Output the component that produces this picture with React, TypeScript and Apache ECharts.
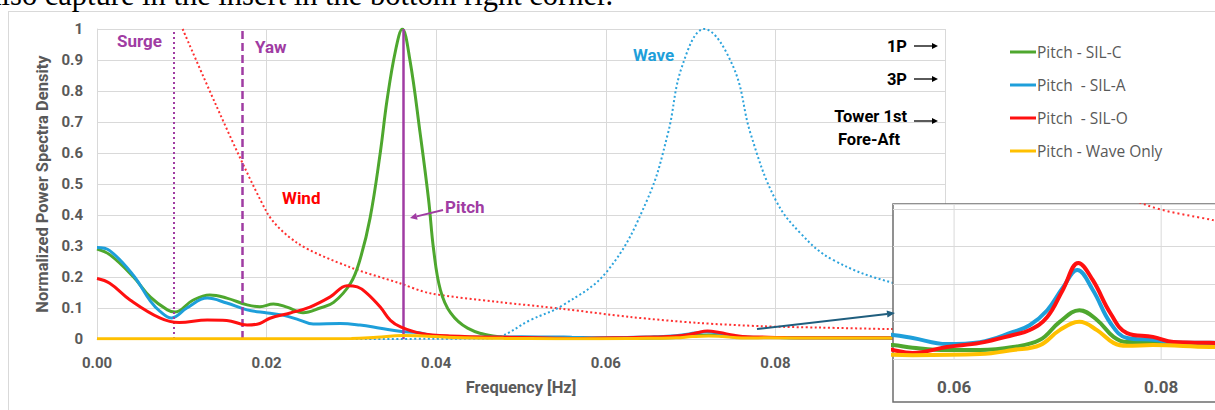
import React, { useEffect, useRef } from "react";
import * as echarts from "echarts";

// ---------- data ----------
const seriesNames = ["Pitch - SIL-C", "Pitch  - SIL-A", "Pitch  - SIL-O", "Pitch - Wave Only"];

const silC: [number, number][] = [
  [0, 0.29], [0.0015, 0.272], [0.0043, 0.2], [0.0063, 0.135], [0.0083, 0.094], [0.0092, 0.087],
  [0.0113, 0.125], [0.0133, 0.142], [0.0153, 0.132], [0.0177, 0.11], [0.0192, 0.104], [0.0208, 0.113],
  [0.0224, 0.103], [0.0243, 0.085], [0.0263, 0.1], [0.0279, 0.118], [0.0299, 0.18], [0.031, 0.255],
  [0.0322, 0.39], [0.0334, 0.6], [0.0342, 0.77], [0.0352, 0.93], [0.036, 1.0], [0.0369, 0.9],
  [0.0381, 0.665], [0.0391, 0.45], [0.0397, 0.287], [0.0405, 0.158], [0.0417, 0.084], [0.0437, 0.035],
  [0.0467, 0.01], [0.05, 0.004], [0.0541, 0.0037], [0.056, 0.003], [0.0593, 0.0024], [0.0625, 0.0024],
  [0.0657, 0.0032], [0.0683, 0.0051], [0.0702, 0.0099], [0.0721, 0.013], [0.0738, 0.0104],
  [0.0754, 0.0059], [0.0767, 0.0045], [0.0792, 0.0045], [0.0818, 0.0043], [0.0847, 0.0037], [0.1, 0.003],
];

const silA: [number, number][] = [
  [0, 0.295], [0.0015, 0.285], [0.0043, 0.205], [0.0063, 0.122], [0.0074, 0.09], [0.0088, 0.068],
  [0.0106, 0.1], [0.013, 0.132], [0.0153, 0.116], [0.0177, 0.094], [0.0201, 0.084], [0.0219, 0.077],
  [0.0239, 0.061], [0.0255, 0.048], [0.0287, 0.05], [0.031, 0.045], [0.0334, 0.035], [0.0357, 0.025],
  [0.038, 0.02], [0.0393, 0.012], [0.0428, 0.006], [0.05, 0.007], [0.0541, 0.0064], [0.056, 0.0056],
  [0.0593, 0.004], [0.0625, 0.0045], [0.0657, 0.0072], [0.0673, 0.009], [0.069, 0.013], [0.0705, 0.019],
  [0.0719, 0.0237], [0.0734, 0.0184], [0.0751, 0.0096], [0.0767, 0.0056], [0.0792, 0.0051],
  [0.0818, 0.0043], [0.0847, 0.0043], [0.1, 0.003],
];

const silO: [number, number][] = [
  [0, 0.195], [0.0015, 0.18], [0.0039, 0.126], [0.0074, 0.068], [0.0097, 0.053], [0.013, 0.061],
  [0.0153, 0.06], [0.0177, 0.045], [0.0192, 0.05], [0.0204, 0.067], [0.0228, 0.084], [0.0251, 0.103],
  [0.0275, 0.136], [0.0295, 0.172], [0.0307, 0.168], [0.0318, 0.148], [0.0334, 0.103], [0.0346, 0.06],
  [0.0358, 0.039], [0.0381, 0.019], [0.0416, 0.01], [0.05, 0.005], [0.0541, 0.0024], [0.056, 0.0016],
  [0.0593, 0.0032], [0.0625, 0.0043], [0.0657, 0.0064], [0.0673, 0.0077], [0.069, 0.0112],
  [0.0705, 0.0184], [0.072, 0.0256], [0.0734, 0.021], [0.0751, 0.0122], [0.0767, 0.0069],
  [0.0792, 0.0059], [0.0812, 0.0045], [0.0847, 0.0043], [0.1, 0.003],
];

const waveOnly: [number, number][] = [
  [0, 0.001], [0.02, 0.001], [0.03, 0.002], [0.033, 0.006], [0.036, 0.011], [0.039, 0.009],
  [0.042, 0.005], [0.048, 0.002], [0.0541, 0.0011], [0.056, 0.001], [0.0625, 0.0013], [0.0657, 0.0024],
  [0.0683, 0.0037], [0.0702, 0.0077], [0.0721, 0.0099], [0.0738, 0.0077], [0.0754, 0.0043],
  [0.0767, 0.0035], [0.0792, 0.0037], [0.0847, 0.0032], [0.1, 0.003],
];

const windSpectrum: [number, number][] = [
  [0.0101, 1.0], [0.02, 0.41], [0.0236, 0.31], [0.0298, 0.232], [0.0357, 0.18], [0.0392, 0.148],
  [0.0472, 0.12], [0.055, 0.097], [0.0629, 0.071], [0.0708, 0.052], [0.0786, 0.041], [0.085, 0.037],
  [0.0936, 0.032], [0.1, 0.03],
];

const waveSpectrum: [number, number][] = [
  [0.03, 0], [0.046, 0.002], [0.0473, 0.006], [0.0511, 0.061], [0.055, 0.11], [0.0602, 0.22],
  [0.0649, 0.45], [0.0673, 0.66], [0.069, 0.88], [0.0716, 1.0], [0.075, 0.88], [0.0771, 0.66],
  [0.08, 0.45], [0.083, 0.34], [0.0868, 0.255], [0.094, 0.18], [0.1, 0.155],
];

const surgeFreq = 0.009;
const yawFreq = 0.0171;
const pitchFreq = 0.0361;

const mainXMin = 0;
const mainXMax = 0.1;
const mainXStep = 0.02;
const mainYMax = 1;
const mainYStep = 0.1;

const insetXMin = 0.0541;
const insetXMax = 0.0852;
const insetYMax = 0.0413;
const insetYStep = 0.01;
const insetTicks = [0.06, 0.08];

// ---------- styles ----------
const GREEN = "#4EA72E";
const BLUE = "#1E9FDA";
const RED = "#FF1010";
const YELLOW = "#FFC000";
const PURPLE = "#A03CA3";
const GRID = "#D9D9D9";
const TXT = "#595959";
const FONT = "Roboto, 'Open Sans', sans-serif";
const LEGEND_FONT = "'Open Sans', Roboto, sans-serif";
const colors = [GREEN, BLUE, RED, YELLOW];
const dataSets = [silC, silA, silO, waveOnly];

function arrow(x1: number, y1: number, x2: number, y2: number, color: string, w: number, len: number, hw: number) {
  const dx = x2 - x1, dy = y2 - y1;
  const d = Math.hypot(dx, dy);
  const ux = dx / d, uy = dy / d;
  const bx = x2 - ux * len, by = y2 - uy * len;
  const nx = -uy, ny = ux;
  return [
    { type: "line", z: 30, shape: { x1, y1, x2: bx, y2: by }, style: { stroke: color, lineWidth: w } },
    {
      type: "polygon", z: 30,
      shape: { points: [[x2, y2], [bx + nx * hw, by + ny * hw], [bx - nx * hw, by - ny * hw]] },
      style: { fill: color },
    },
  ];
}

function txt(text: string, x: number, y: number, color: string, size: number, align = "left", weight = "bold") {
  return {
    type: "text", z: 30, x, y,
    style: { text, fill: color, fontSize: size, fontWeight: weight, fontFamily: FONT, align, verticalAlign: "middle" },
  };
}

export default function App() {
  const ref = useRef<HTMLDivElement>(null);
  useEffect(() => {
    if (!ref.current) return;
    const chart = echarts.init(ref.current, null, { renderer: "svg" });

    const mainSeries: any[] = dataSets.map((d, i) => ({
      name: seriesNames[i], type: "line", xAxisIndex: 0, yAxisIndex: 0, data: d,
      smooth: 0.4, showSymbol: false, symbol: "none", z: 3 + i,
      lineStyle: { color: colors[i], width: 3 }, itemStyle: { color: colors[i] },
    }));
    mainSeries[0].markLine = {
      silent: true, symbol: "none", label: { show: false }, precision: 5,
      data: [
        { xAxis: surgeFreq, lineStyle: { color: PURPLE, width: 2, type: [2, 3] } },
        { xAxis: yawFreq, lineStyle: { color: PURPLE, width: 2.5, type: [8, 4] } },
        { xAxis: pitchFreq, lineStyle: { color: PURPLE, width: 2.5, type: "solid" } },
      ],
    };
    const refSeries: any[] = [
      { name: "Wind", type: "line", data: windSpectrum, smooth: 0.3, showSymbol: false, symbol: "none", z: 2,
        lineStyle: { color: "#FF3030", width: 2, type: [2, 2.5] } },
      { name: "Wave", type: "line", data: waveSpectrum, smooth: 0.4, showSymbol: false, symbol: "none", z: 2,
        lineStyle: { color: "#2BA3DC", width: 2, type: [2, 2.5] } },
    ];
    const insetGridLines = insetTicks.map((t) => ({
      type: "line", xAxisIndex: 1, yAxisIndex: 1, silent: true, symbol: "none", showSymbol: false, z: 15,
      data: [[t, 0], [t, insetYMax]], lineStyle: { color: GRID, width: 1 },
    }));
    const insetSeries: any[] = dataSets.map((d, i) => ({
      name: seriesNames[i], type: "line", xAxisIndex: 1, yAxisIndex: 1, data: d,
      smooth: 0.4, showSymbol: false, symbol: "none", z: 21 + i, clip: true,
      lineStyle: { color: colors[i], width: 4 }, itemStyle: { color: colors[i] },
    }));
    const insetWind = {
      name: "Wind", type: "line", xAxisIndex: 1, yAxisIndex: 1, data: windSpectrum, smooth: 0.3,
      showSymbol: false, symbol: "none", z: 20, clip: true,
      lineStyle: { color: "#FF3030", width: 2, type: [2, 3] },
    };

    const graphics: any[] = [
      // cropped text line at top (cut off in the reference as well)
      {
        type: "text", z: 30, x: -12, y: -5,
        style: { text: "also capture in the insert in the bottom right corner.", fill: "#000",
          fontSize: 30.5, fontFamily: "'Liberation Serif', serif", verticalAlign: "middle" },
      },
      { type: "line", z: 1, shape: { x1: 8, y1: 11.5, x2: 1215, y2: 11.5 }, style: { stroke: GRID, lineWidth: 1 } },
      { type: "line", z: 1, shape: { x1: 8.5, y1: 11, x2: 8.5, y2: 410 }, style: { stroke: GRID, lineWidth: 1 } },
      txt("Surge", 117, 41, PURPLE, 17),
      txt("Yaw", 255, 47, PURPLE, 17),
      txt("Wind", 282, 198, "#FF0000", 17),
      txt("Pitch", 445, 207, PURPLE, 17),
      txt("Wave", 633, 55, "#1E9FDA", 17),
      txt("1P", 907, 46, "#000", 16.5, "right"),
      txt("3P", 907, 79, "#000", 16.5, "right"),
      txt("Tower 1st", 907, 116, "#000", 16.5, "right"),
      txt("Fore-Aft", 869, 139, "#000", 16.5, "center"),
      ...arrow(914, 46, 938, 46, "#000", 1.3, 6, 3),
      ...arrow(914, 79, 938, 79, "#000", 1.3, 6, 3),
      ...arrow(914, 121, 938, 121, "#000", 1.3, 6, 3),
      ...arrow(443, 210, 410, 218, PURPLE, 2, 7, 3.5),
      ...arrow(757, 329, 895, 313, "#1F5E7E", 2, 8, 3.5),
      // inset box
      {
        type: "rect", z: 10, shape: { x: 893, y: 204, width: 330, height: 198 },
        style: { fill: "#FFFFFF", stroke: "#6E6E6E", lineWidth: 1.5 },
      },
    ];

    const option: any = {
      animation: false,
      backgroundColor: "#FFFFFF",
      textStyle: { fontFamily: FONT },
      legend: {
        data: seriesNames, orient: "vertical", left: 1010, top: 44, padding: 0, itemWidth: 26, itemHeight: 3,
        itemGap: 17, icon: "rect",
        textStyle: { color: TXT, fontSize: 15.5, fontFamily: LEGEND_FONT, padding: [0, 0, 0, -4] },
      },
      grid: [
        { left: 97, top: 29, width: 848, height: 310 },
        { left: 893, top: 204, width: 322, height: 155 },
      ],
      xAxis: [
        {
          gridIndex: 0, type: "value", min: mainXMin, max: mainXMax, interval: mainXStep,
          axisLine: { show: true, lineStyle: { color: GRID } }, axisTick: { show: false },
          splitLine: { show: true, lineStyle: { color: GRID } },
          axisLabel: { color: TXT, fontWeight: "bold", fontSize: 15, margin: 16,
            formatter: (v: number) => (v > 0.099 ? "" : v.toFixed(2)) },
          name: "Frequency [Hz]", nameLocation: "middle", nameGap: 40,
          nameTextStyle: { color: TXT, fontWeight: "bold", fontSize: 16.5 },
        },
        {
          gridIndex: 1, type: "value", min: insetXMin, max: insetXMax, z: 20,
          axisLine: { show: false }, axisTick: { show: false }, splitLine: { show: false },
          axisLabel: { customValues: insetTicks, color: TXT, fontWeight: "bold", fontSize: 17, margin: 19,
            formatter: (v: number) => v.toFixed(2) },
        },
      ],
      yAxis: [
        {
          gridIndex: 0, type: "value", min: 0, max: mainYMax, interval: mainYStep,
          axisLine: { show: true, lineStyle: { color: GRID } }, axisTick: { show: false },
          splitLine: { show: true, lineStyle: { color: GRID } },
          axisLabel: { color: TXT, fontWeight: "bold", fontSize: 15, margin: 14,
            formatter: (v: number) => (v === 0 ? "0" : v >= 0.999 ? "1" : v.toFixed(1)) },
          name: "Normalized Power Spectra Density", nameLocation: "middle", nameGap: 41,
          nameTextStyle: { color: TXT, fontWeight: "bold", fontSize: 16.5 },
        },
        {
          gridIndex: 1, type: "value", min: 0, max: insetYMax, interval: insetYStep, z: 20,
          axisLine: { show: false }, axisTick: { show: false }, axisLabel: { show: false },
          splitLine: { show: true, lineStyle: { color: GRID } },
        },
      ],
      graphic: { elements: graphics },
      series: [...refSeries, ...mainSeries, ...insetGridLines, insetWind, ...insetSeries],
    };
    chart.setOption(option);
    return () => chart.dispose();
  }, []);
  return <div ref={ref} style={{ position: "absolute", left: 0, top: 0, width: 1215, height: 410 }} />;
}
